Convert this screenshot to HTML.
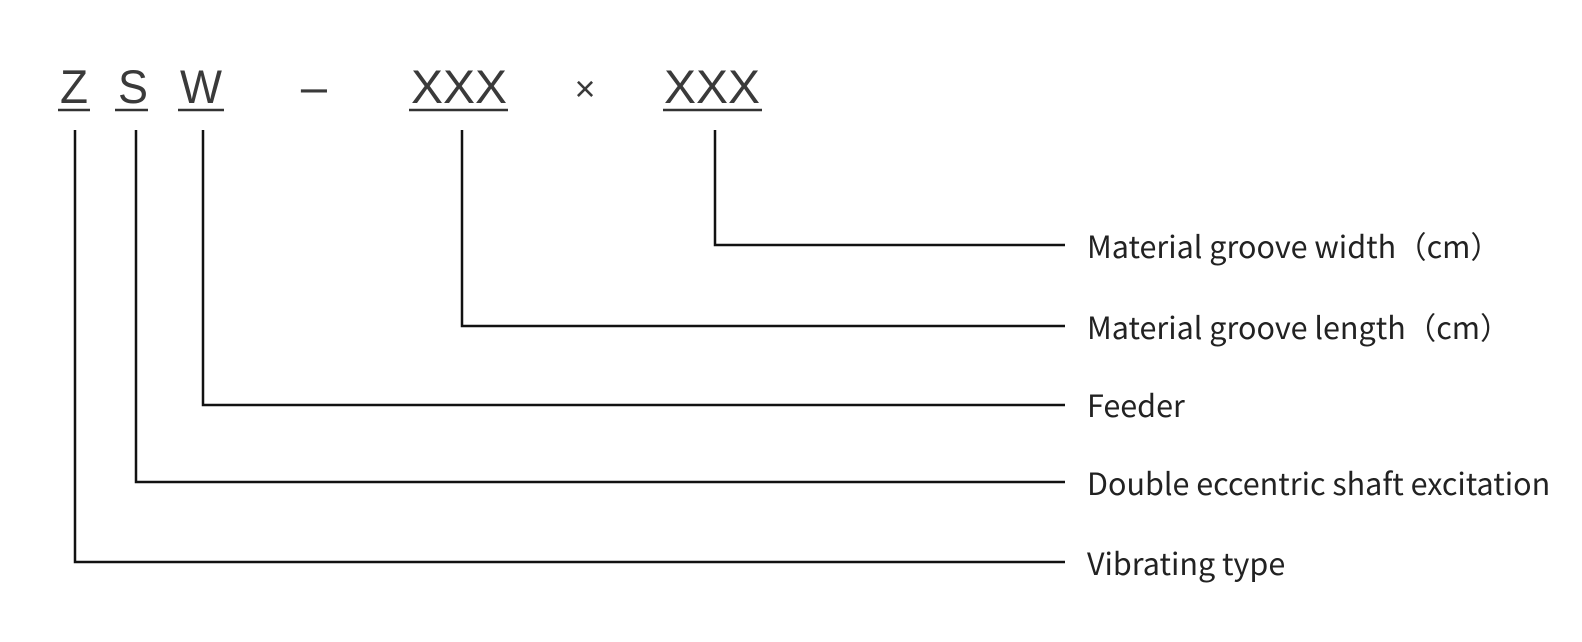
<!DOCTYPE html>
<html><head><meta charset="utf-8"><style>
html,body{margin:0;padding:0;background:#fff;overflow:hidden;}
svg{display:block;}
.t{font-family:"Liberation Sans",sans-serif;font-size:47px;fill:#3a3a3a;}
.l{font-family:"Noto Sans CJK SC","Liberation Sans",sans-serif;font-size:30.5px;fill:#222;}
</style></head><body>
<svg width="1582" height="642" viewBox="0 0 1582 642" xmlns="http://www.w3.org/2000/svg">
<g class="t" text-anchor="middle">
<text x="74" y="103" textLength="28" lengthAdjust="spacingAndGlyphs">Z</text>
<text x="133" y="103" textLength="30" lengthAdjust="spacingAndGlyphs">S</text>
<text x="201" y="103" textLength="42" lengthAdjust="spacingAndGlyphs">W</text>
<text x="314" y="103">–</text>
<text x="459" y="103" textLength="96" lengthAdjust="spacingAndGlyphs">XXX</text>
<text x="585" y="101" style="font-size:36px">×</text>
<text x="712" y="103" textLength="96" lengthAdjust="spacingAndGlyphs">XXX</text>
</g>
<g stroke="#333" stroke-width="2.5">
<line x1="58" y1="110" x2="90" y2="110"/>
<line x1="115" y1="110" x2="148" y2="110"/>
<line x1="178" y1="110" x2="224" y2="110"/>
<line x1="409" y1="110" x2="508" y2="110"/>
<line x1="663" y1="110" x2="762" y2="110"/>
</g>
<g stroke="#111" stroke-width="2.5" fill="none">
<polyline points="715,130 715,245 1065,245"/>
<polyline points="462,130 462,326 1065,326"/>
<polyline points="203,130 203,405 1065,405"/>
<polyline points="136,130 136,482 1065,482"/>
<polyline points="75,130 75,562 1065,562"/>
</g>
<g class="l" dominant-baseline="central">
<text x="1087" y="245">Material groove width（cm）</text>
<text x="1087" y="326">Material groove length（cm）</text>
<text x="1087" y="404">Feeder</text>
<text x="1087" y="482">Double eccentric shaft excitation</text>
<text x="1087" y="562">Vibrating type</text>
</g>
</svg>
</body></html>
